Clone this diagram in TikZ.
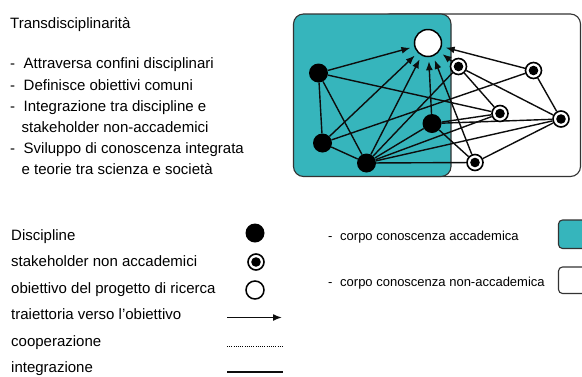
\documentclass[tikz,border=0pt]{standalone}
\usepackage{fontspec}
\setmainfont{Liberation Sans}
\usetikzlibrary{arrows.meta}
\pgfdeclarelayer{bg}
\pgfdeclarelayer{edges}
\pgfsetlayers{bg,edges,main}
\definecolor{acadteal}{HTML}{36B5BC}
\begin{document}
\begin{tikzpicture}[x=1pt,y=-1pt,
  txt/.style={anchor=base west, inner sep=0pt, font=\fontsize{15}{18}\selectfont, text=black},
  smalltxt/.style={anchor=base west, inner sep=0pt, font=\fontsize{13}{16}\selectfont, text=black},
  disc/.style={circle, fill=black, minimum size=19pt, inner sep=0pt},
  stake/.style={circle, draw=black, line width=1.6pt, fill=white, minimum size=16pt, inner sep=0pt,
    path picture={\fill[black] (path picture bounding box.center) circle (4.8pt);}},
  goal/.style={circle, draw=black, line width=1.5pt, fill=white, minimum size=27pt, inner sep=0pt},
  link/.style={line width=1.4pt, draw=black!95},
  tip/.style={-{Latex[length=9pt,width=7pt]}},
  arr/.style={link, tip, shorten >=4pt},
  box/.style={draw=black!80, line width=1.1pt, rounded corners=10pt},
]
\useasboundingbox (0,0) rectangle (582,376);

% ---------- text block ----------
\node[txt] (title) at (10,28) {Transdisciplinarità};
\node[txt] (l1) at (10,68.5) {\makebox[13.5pt][l]{-}Attraversa confini disciplinari};
\node[txt] (l2) at (10,90) {\makebox[13.5pt][l]{-}Definisce obiettivi comuni};
\node[txt] (l3) at (10,111) {\makebox[13.5pt][l]{-}Integrazione tra discipline e};
\node[txt] (l4) at (21.5,132) {stakeholder non-accademici};
\node[txt] (l5) at (10,153) {\makebox[13.5pt][l]{-}Sviluppo di conoscenza integrata};
\node[txt] (l6) at (21.5,174) {e teorie tra scienza e società};

% ---------- main diagram ----------
\begin{pgfonlayer}{bg}
  \draw[box, fill=white] (380,14) rectangle (580.5,176.5);
  \draw[box, fill=acadteal] (293.5,14) rectangle (451,176.5);
\end{pgfonlayer}

\node[goal] (G) at (428,43) {};
\node[disc] (D1) at (318.5,73) {};
\node[disc] (D2) at (322.5,143) {};
\node[disc] (D3) at (366.5,163) {};
\node[disc] (D4) at (432,123.5) {};
\node[stake] (S1) at (458.5,66.5) {};
\node[stake] (S2) at (533.5,70.5) {};
\node[stake] (S3) at (500,113.5) {};
\node[stake] (S4) at (561,119) {};
\node[stake] (S5) at (475,162.5) {};

\begin{pgfonlayer}{edges}
  \foreach \a/\b in {D1/D2, D1/D3, D1/S3, D2/D3, D2/S2, D3/D4, D3/S1, D3/S3, D3/S4, D3/S5,
                     D4/S3, D4/S4, D4/S5, S1/S3, S1/S4, S2/S4, S4/S5}
    \draw[link] (\a) -- (\b);
  \foreach \a in {D1, D2, D3, D4, S5, S1, S2}
    \draw[arr] (\a) -- (G);
\end{pgfonlayer}

% ---------- legend ----------
\node[txt] (k1) at (11,240) {Discipline};
\node[txt] (k2) at (11,266.5) {stakeholder non accademici};
\node[txt] (k3) at (11,293) {obiettivo del progetto di ricerca};
\node[txt] (k4) at (11,319.5) {traiettoria verso l’obiettivo};
\node[txt] (k5) at (11,346) {cooperazione};
\node[txt] (k6) at (11,372) {integrazione};

\node[disc] (m1) at (255,233) {};
\node[stake] (m2) at (256,262) {};
\node[goal, minimum size=18pt] (m3) at (255,290) {};
\coordinate (a1) at (227,317.5);
\coordinate (a2) at (282,317.5);
\draw[link, tip] (a1) -- (a2);
\coordinate (c1) at (227,346);
\coordinate (c2) at (283,346);
\draw[line width=0.9pt, dash pattern=on 0.9pt off 1.3pt] (c1) -- (c2);
\coordinate (i1) at (227,372);
\coordinate (i2) at (283,372);
\draw[link] (i1) -- (i2);

\node[smalltxt] (r1) at (328,240) {\makebox[12pt][l]{-}corpo conoscenza accademica};
\node[smalltxt] (r2) at (328,286.5) {\makebox[12pt][l]{-}corpo conoscenza non-accademica};
\draw[box, rounded corners=4pt, fill=acadteal] (558.5,220) rectangle (594,248.5);
\draw[box, rounded corners=4pt, fill=white] (558.5,267) rectangle (594,293.5);
\end{tikzpicture}
\end{document}
